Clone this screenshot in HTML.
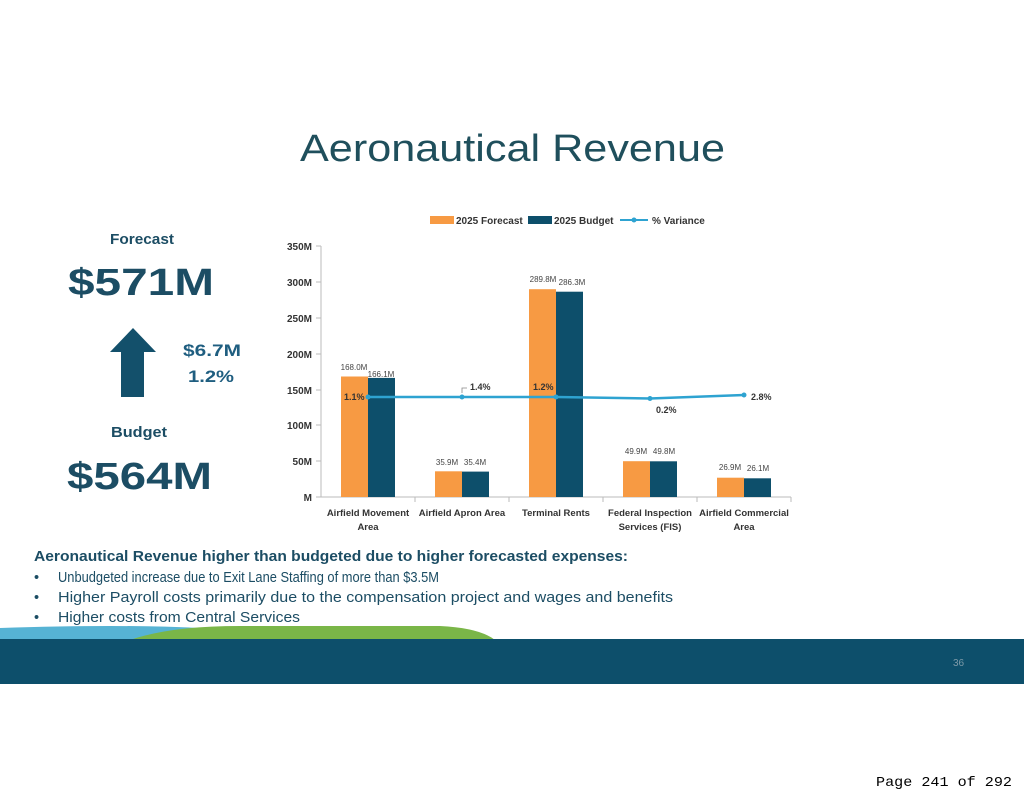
<!DOCTYPE html>
<html><head><meta charset="utf-8"><style>
html,body{margin:0;padding:0;background:#fff}
svg{display:block}
text{font-family:"Liberation Sans",sans-serif}
text.mono{font-family:"Liberation Mono",monospace}
</style></head><body>
<svg width="1024" height="791" viewBox="0 0 1024 791" xmlns="http://www.w3.org/2000/svg">
<rect width="1024" height="791" fill="#fff"/>
<text x="300" y="161" font-size="38" fill="#1f4f5c" textLength="425" lengthAdjust="spacingAndGlyphs">Aeronautical Revenue</text>

<g fill="#1c4d64" font-weight="bold">
<text x="110" y="244" font-size="15" textLength="64" lengthAdjust="spacingAndGlyphs">Forecast</text>
<text x="68" y="295" font-size="38" textLength="146" lengthAdjust="spacingAndGlyphs">$571M</text>
<text x="111" y="437" font-size="15" textLength="56" lengthAdjust="spacingAndGlyphs">Budget</text>
<text x="67" y="489" font-size="38" textLength="145" lengthAdjust="spacingAndGlyphs">$564M</text>
</g>
<g fill="#1f5e80" font-weight="bold" font-size="17">
<text x="183" y="356" textLength="58" lengthAdjust="spacingAndGlyphs">$6.7M</text>
<text x="188" y="382" textLength="46" lengthAdjust="spacingAndGlyphs">1.2%</text>
</g>
<polygon points="133,328 156,352 144,352 144,397 121,397 121,352 110,352" fill="#13506b"/>

<g font-size="10" font-weight="bold" fill="#333">
<rect x="430" y="216" width="24" height="8" fill="#f79a43"/>
<text x="456" y="224">2025 Forecast</text>
<rect x="528" y="216" width="24" height="8" fill="#0d4f6b"/>
<text x="554" y="224">2025 Budget</text>
<line x1="620" y1="220" x2="648" y2="220" stroke="#2ea3d1" stroke-width="2"/>
<circle cx="634" cy="220" r="2.5" fill="#2ea3d1"/>
<text x="652" y="224">% Variance</text>
</g>

<g stroke="#bbb" stroke-width="1">
<line x1="321" y1="246" x2="321" y2="497"/>
<line x1="316" y1="497" x2="791" y2="497"/>
<line x1="316" y1="246" x2="321" y2="246"/>
<line x1="316" y1="282" x2="321" y2="282"/>
<line x1="316" y1="318" x2="321" y2="318"/>
<line x1="316" y1="354" x2="321" y2="354"/>
<line x1="316" y1="390" x2="321" y2="390"/>
<line x1="316" y1="425" x2="321" y2="425"/>
<line x1="316" y1="461" x2="321" y2="461"/>
<line x1="415" y1="497" x2="415" y2="502"/>
<line x1="509" y1="497" x2="509" y2="502"/>
<line x1="603" y1="497" x2="603" y2="502"/>
<line x1="697" y1="497" x2="697" y2="502"/>
<line x1="791" y1="497" x2="791" y2="502"/>
</g>
<g font-size="10" font-weight="bold" fill="#333" text-anchor="end">
<text x="312" y="250">350M</text>
<text x="312" y="286">300M</text>
<text x="312" y="322">250M</text>
<text x="312" y="358">200M</text>
<text x="312" y="394">150M</text>
<text x="312" y="429">100M</text>
<text x="312" y="465">50M</text>
<text x="312" y="501">M</text>
</g>

<g fill="#f79a43">
<rect x="341" y="376.5" width="27" height="120.5"/>
<rect x="435" y="471.3" width="27" height="25.7"/>
<rect x="529" y="289.2" width="27" height="207.8"/>
<rect x="623" y="461.2" width="27" height="35.8"/>
<rect x="717" y="477.7" width="27" height="19.3"/>
</g>
<g fill="#0d4f6b">
<rect x="368" y="377.9" width="27" height="119.1"/>
<rect x="462" y="471.6" width="27" height="25.4"/>
<rect x="556" y="291.7" width="27" height="205.3"/>
<rect x="650" y="461.3" width="27" height="35.7"/>
<rect x="744" y="478.3" width="27" height="18.7"/>
</g>
<g font-size="8" fill="#444" text-anchor="middle">
<text x="354" y="370">168.0M</text>
<text x="381" y="377">166.1M</text>
<text x="447" y="465">35.9M</text>
<text x="475" y="465">35.4M</text>
<text x="543" y="282">289.8M</text>
<text x="572" y="285">286.3M</text>
<text x="636" y="454">49.9M</text>
<text x="664" y="454">49.8M</text>
<text x="730" y="470">26.9M</text>
<text x="758" y="471">26.1M</text>
</g>
<polyline points="368,397 462,397 556,397 650,398.5 744,395" fill="none" stroke="#2ea3d1" stroke-width="2.5"/>
<g fill="#2ea3d1">
<circle cx="368" cy="397" r="2.5"/><circle cx="462" cy="397" r="2.5"/><circle cx="556" cy="397" r="2.5"/><circle cx="650" cy="398.5" r="2.5"/><circle cx="744" cy="395" r="2.5"/>
</g>
<polyline points="462,393 462,388 467,388" fill="none" stroke="#888" stroke-width="0.8"/>
<g font-size="9" font-weight="bold" fill="#333">
<text x="344" y="400">1.1%</text>
<text x="470" y="390">1.4%</text>
<text x="533" y="390">1.2%</text>
<text x="656" y="413">0.2%</text>
<text x="751" y="400">2.8%</text>
</g>
<g font-size="9.5" font-weight="bold" fill="#333" text-anchor="middle">
<text x="368" y="516">Airfield Movement</text>
<text x="368" y="530">Area</text>
<text x="462" y="516">Airfield Apron Area</text>
<text x="556" y="516">Terminal Rents</text>
<text x="650" y="516">Federal Inspection</text>
<text x="650" y="530">Services (FIS)</text>
<text x="744" y="516">Airfield Commercial</text>
<text x="744" y="530">Area</text>
</g>

<text x="34" y="561" font-size="15" font-weight="bold" fill="#1c4d64" textLength="594" lengthAdjust="spacingAndGlyphs">Aeronautical Revenue higher than budgeted due to higher forecasted expenses:</text>
<g font-size="14.5" fill="#1c4d64">
<text x="34" y="582">•</text><text x="58" y="582" textLength="381" lengthAdjust="spacingAndGlyphs">Unbudgeted increase due to Exit Lane Staffing of more than $3.5M</text>
<text x="34" y="602">•</text><text x="58" y="602" textLength="615" lengthAdjust="spacingAndGlyphs">Higher Payroll costs primarily due to the compensation project and wages and benefits</text>
<text x="34" y="622">•</text><text x="58" y="622" textLength="242" lengthAdjust="spacingAndGlyphs">Higher costs from Central Services</text>
</g>

<path d="M0,628 Q120,624 200,628 L210,640 L0,640 Z" fill="#56b3d4"/>
<path d="M130,640 Q170,626 240,626 L440,626 Q480,628 495,640 Z" fill="#7ab648"/>
<rect x="0" y="639" width="1024" height="45" fill="#0d4f6b"/>
<text x="953" y="666" font-size="10" fill="#7d9aa8">36</text>
<text class="mono" x="876" y="786" font-size="14" fill="#000" textLength="136" lengthAdjust="spacingAndGlyphs">Page 241 of 292</text>
</svg>
</body></html>
